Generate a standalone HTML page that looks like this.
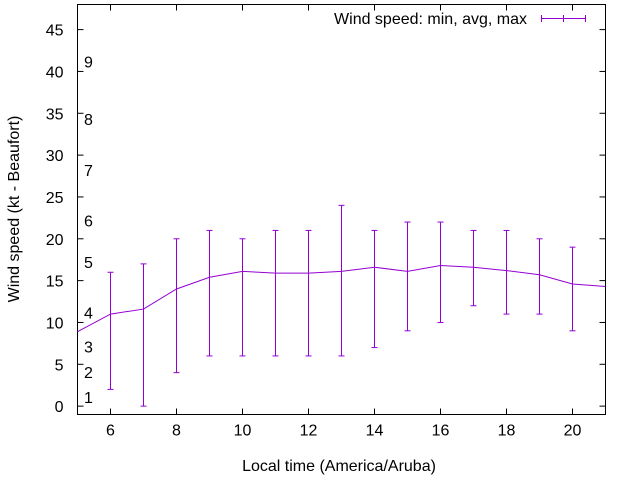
<!DOCTYPE html>
<html><head><meta charset="utf-8"><style>body{margin:0;background:#fff}svg{display:block;font-family:"Liberation Sans",sans-serif}</style></head>
<body>
<svg id="c" width="640" height="480"></svg>
<script>
const hours=[5,6,7,8,9,10,11,12,13,14,15,16,17,18,19,20,21];
const avgSpeed=[8.9,11,11.6,14,15.4,16.1,15.9,15.9,16.1,16.6,16.1,16.8,16.6,16.2,15.7,14.6,14.3];
const minSpeed=[null,2,0,4,6,6,6,6,6,7,9,10,12,11,11,9,null];
const maxSpeed=[null,16,17,20,21,20,21,21,24,21,22,22,21,21,20,19,null];
const xTicks=[6,8,10,12,14,16,18,20];
const yTicks=[0,5,10,15,20,25,30,35,40,45];
const beaufortLabels=["1","2","3","4","5","6","7","8","9"];
const beaufortY=[1.1,4.1,7.1,11.2,17.2,22.2,28.2,34.3,41.2];
const L=77.5,R=605.5,T=4.5,B=414.5,xMin=5,xMax=21,yMin=-1,yMax=48;
const X=v=>L+(v-xMin)/(xMax-xMin)*(R-L);
const Y=v=>B-(v-yMin)/(yMax-yMin)*(B-T);
const svg=document.getElementById('c');
const NS='http://www.w3.org/2000/svg';
function mk(t,a,p){const e=document.createElementNS(NS,t);for(const k in a)e.setAttribute(k,a[k]);(p||svg).appendChild(e);return e;}
let e;
for(const v of xTicks){
 e=mk('line',{x1:X(v),x2:X(v),y1:B,y2:B-6,stroke:'#000'});
 
 
 mk('line',{x1:X(v),x2:X(v),y1:T,y2:T+6,stroke:'#000'});
 e=mk('text',{x:X(v),y:B+21,'text-anchor':'middle','font-size':16});e.textContent=v;
 
 
}
for(const v of yTicks){
 e=mk('line',{x1:L,x2:L+6,y1:Y(v),y2:Y(v),stroke:'#000'});
 
 
 mk('line',{x1:R,x2:R-6,y1:Y(v),y2:Y(v),stroke:'#000'});
 e=mk('text',{x:L-14,y:Y(v)+6,'text-anchor':'end','font-size':16});e.textContent=v;
 
 
}
beaufortLabels.forEach((s,i)=>{
 e=mk('text',{x:84,y:Y(beaufortY[i])+6,'font-size':16});e.textContent=s;
 
 
});
e=mk('rect',{x:L,y:T,width:R-L,height:B-T,fill:'none',stroke:'#000'});


const col='#9400d3';
hours.forEach((h,i)=>{
 if(minSpeed[i]==null)return;
 const g=mk('g',{stroke:col,'stroke-width':1});
 
 
 mk('line',{x1:X(h),x2:X(h),y1:Y(minSpeed[i]),y2:Y(maxSpeed[i])},g);
 mk('line',{x1:X(h)-3,x2:X(h)+3,y1:Y(minSpeed[i]),y2:Y(minSpeed[i])},g);
 mk('line',{x1:X(h)-3,x2:X(h)+3,y1:Y(maxSpeed[i]),y2:Y(maxSpeed[i])},g);
});
e=mk('polyline',{points:hours.map((h,i)=>X(h)+','+Y(avgSpeed[i])).join(' '),fill:'none',stroke:col,'stroke-width':1});


e=mk('text',{x:527,y:24,'text-anchor':'end','font-size':16});e.textContent='Wind speed: min, avg, max';


const lg=mk('g',{stroke:col});


mk('line',{x1:541,x2:585,y1:18.5,y2:18.5},lg);
mk('line',{x1:541.5,x2:541.5,y1:15,y2:22},lg);
mk('line',{x1:585.5,x2:585.5,y1:15,y2:22},lg);
mk('line',{x1:563.5,x2:563.5,y1:15,y2:22},lg);
e=mk('text',{x:339,y:471,'text-anchor':'middle','font-size':16});e.textContent='Local time (America/Aruba)';


e=mk('text',{x:0,y:0,'text-anchor':'middle','font-size':16,transform:'translate(19,209) rotate(-90)'});e.textContent='Wind speed (kt - Beaufort)';


</script>
</body></html>
